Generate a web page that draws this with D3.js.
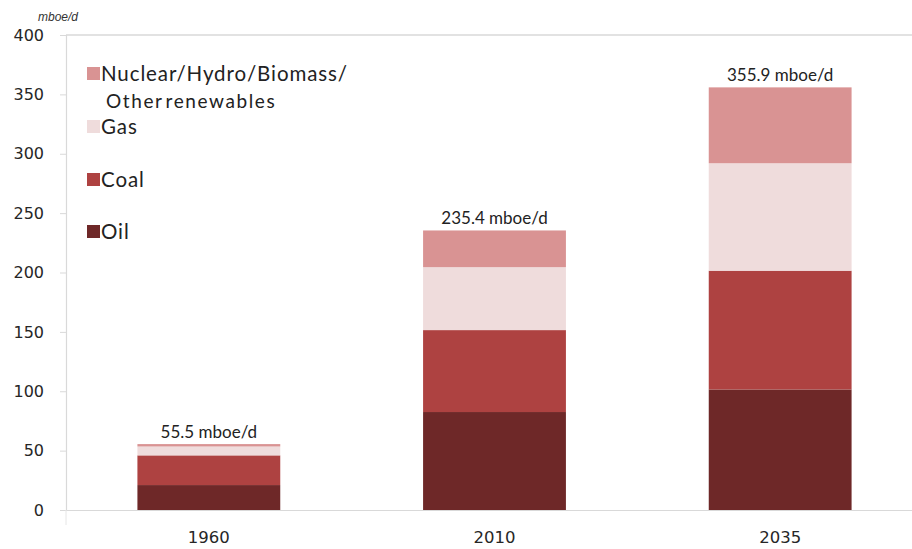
<!DOCTYPE html>
<html>
<head>
<meta charset="utf-8">
<script src="https://cdn.jsdelivr.net/npm/d3@7"></script>
<style>
  html, body { margin: 0; padding: 0; background: #fff; }
  svg { display: block; }
</style>
</head>
<body>
<svg id="chart" width="912" height="549"></svg>
<script>
// ---- data ----
const categories = ["1960", "2010", "2035"];
const seriesNames = ["Oil", "Coal", "Gas", "Nuclear/Hydro/Biomass/Other renewables"];
const oil = [21, 82.5, 101.5];
const coal = [25, 69, 100];
const gas = [7.5, 53, 90.5];
const other = [2, 30.9, 63.9];
const totalLabels = ["55.5 mboe/d", "235.4 mboe/d", "355.9 mboe/d"];
const yTicks = [0, 50, 100, 150, 200, 250, 300, 350, 400];
const colors = ["#6e2828", "#ae4241", "#efdcdc", "#d99393"];

// ---- layout ----
const svg = d3.select("#chart");
const x0 = 66, x1 = 923, yBase = 510, yTop = 35;

const x = d3.scaleBand().domain(categories).range([x0, x1]).paddingInner(0.5).paddingOuter(0.25);
const y = d3.scaleLinear().domain([0, 400]).range([yBase, yTop]);

const rows = categories.map((c, i) => ({cat: c, Oil: oil[i], Coal: coal[i], Gas: gas[i], Other: other[i]}));
const keys = ["Oil", "Coal", "Gas", "Other"];
const stack = d3.stack().keys(keys)(rows);

// top border line
svg.append("line").attr("x1", x0).attr("x2", 912).attr("y1", y(400)).attr("y2", y(400))
  .attr("stroke", "#d9d9d9").attr("stroke-width", 1.5);

// y axis
const yAxis = d3.axisLeft(y).tickValues(yTicks).tickSize(6).tickPadding(16);
const gy = svg.append("g").attr("transform", `translate(${x0},0)`).call(yAxis);
gy.select(".domain").attr("stroke", "#d9d9d9").attr("stroke-width", 1.2);
gy.selectAll(".tick line").attr("stroke", "#d9d9d9");
gy.selectAll(".tick text").attr("font-family", "DejaVu Sans, Verdana, sans-serif")
  .attr("font-size", 16).attr("fill", "#262626");

// x axis
const xAxis = d3.axisBottom(x).tickSize(0).tickPadding(21);
const gx = svg.append("g").attr("transform", `translate(0,${yBase})`).call(xAxis);
gx.select(".domain").attr("stroke", "#d9d9d9").attr("stroke-width", 1.2);
gx.selectAll(".tick text").attr("font-family", "DejaVu Sans, Verdana, sans-serif")
  .attr("font-size", 16.5).attr("fill", "#262626");

// small extension below baseline at left axis
svg.append("line").attr("x1", x0).attr("x2", x0).attr("y1", yBase).attr("y2", yBase + 15)
  .attr("stroke", "#e6e6e6").attr("stroke-width", 1);

// bars
svg.append("g").selectAll("g").data(stack).join("g")
  .attr("fill", (d, i) => colors[i])
  .selectAll("rect").data(d => d).join("rect")
  .attr("x", d => x(d.data.cat))
  .attr("width", x.bandwidth())
  .attr("y", d => y(d[1]))
  .attr("height", d => y(d[0]) - y(d[1]));

// total labels
const totals = categories.map((c, i) => oil[i] + coal[i] + gas[i] + other[i]);
svg.append("g").selectAll("text").data(categories).join("text")
  .attr("x", d => x(d) + x.bandwidth() / 2)
  .attr("y", (d, i) => y(totals[i]) - 6)
  .attr("text-anchor", "middle")
  .attr("font-family", "Lato, 'Open Sans', sans-serif")
  .attr("font-size", 17)
  .attr("fill", "#222")
  .text((d, i) => totalLabels[i]);

// unit label
svg.append("text").attr("x", 38).attr("y", 21)
  .attr("font-family", "'Liberation Sans', Arial, sans-serif")
  .attr("font-size", 12).attr("font-style", "italic").attr("fill", "#333")
  .text("mboe/d");

// legend
const legendItems = [
  {name: "Nuclear/Hydro/Biomass/", name2: "Other renewables", color: colors[3], y: 81},
  {name: "Gas", color: colors[2], y: 134},
  {name: "Coal", color: colors[1], y: 187},
  {name: "Oil", color: colors[0], y: 239}
];
const lg = svg.append("g");
legendItems.forEach(it => {
  lg.append("rect").attr("x", 87).attr("y", it.y - 14).attr("width", 13).attr("height", 13).attr("fill", it.color);
  lg.append("text").attr("x", 101).attr("y", it.y)
    .attr("font-family", "Lato, 'Open Sans', sans-serif").attr("font-size", 20.5)
    .attr("letter-spacing", 0.9).attr("fill", "#222").text(it.name);
  if (it.name2) {
    lg.append("text").attr("x", 106).attr("y", it.y + 27)
      .attr("font-family", "Lato, 'Open Sans', sans-serif").attr("font-size", 19)
      .attr("letter-spacing", 1.6).attr("word-spacing", -4).attr("fill", "#222").text(it.name2);
  }
});
</script>
</body>
</html>
